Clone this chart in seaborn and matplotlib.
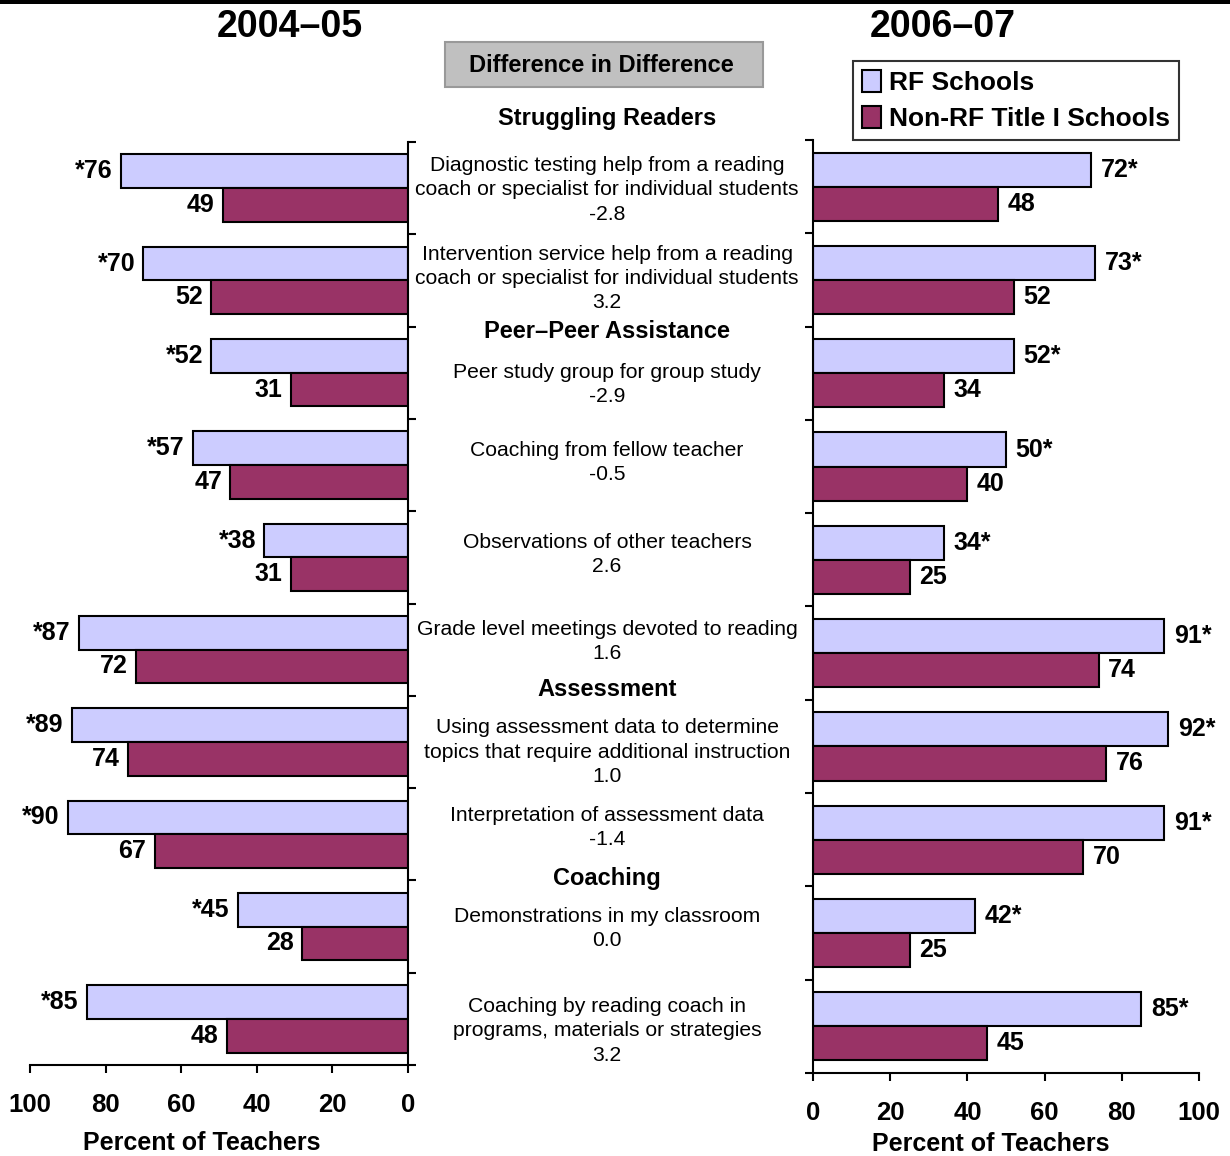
import numpy as np
import pandas as pd
import seaborn as sns
import matplotlib.pyplot as plt
import matplotlib.transforms as mtransforms
from matplotlib.patches import Patch, Rectangle

items = [
    "Diagnostic testing help from a reading\ncoach or specialist for individual students",
    "Intervention service help from a reading\ncoach or specialist for individual students",
    "Peer study group for group study",
    "Coaching from fellow teacher",
    "Observations of other teachers",
    "Grade level meetings devoted to reading",
    "Using assessment data to determine\ntopics that require additional instruction",
    "Interpretation of assessment data",
    "Demonstrations in my classroom",
    "Coaching by reading coach in\nprograms, materials or strategies",
]
diff_in_diff = ["-2.8", "3.2", "-2.9", "-0.5", "2.6", "1.6", "1.0", "-1.4", "0.0", "3.2"]
rf_0405 = [76, 70, 52, 57, 38, 87, 89, 90, 45, 85]
nonrf_0405 = [49, 52, 31, 47, 31, 72, 74, 67, 28, 48]
rf_0607 = [72, 73, 52, 50, 34, 91, 92, 91, 42, 85]
nonrf_0607 = [48, 52, 34, 40, 25, 74, 76, 70, 25, 45]
groups = ["RF Schools", "Non-RF Title I Schools"]
sections = ["Struggling Readers", "Peer\u2013Peer Assistance", "Assessment", "Coaching"]
xticks = [0, 20, 40, 60, 80, 100]

colors = ["#CCCCFF", "#993366"]
W, H = 1230, 1156

sns.set_style("white")
plt.rcParams["font.family"] = ["Liberation Sans", "DejaVu Sans"]
plt.rcParams["text.color"] = "black"
plt.rcParams["axes.labelcolor"] = "black"
plt.rcParams["xtick.color"] = "black"
plt.rcParams["ytick.color"] = "black"


def long_df(rf, nonrf):
    return pd.DataFrame({
        "item": items * 2,
        "pct": rf + nonrf,
        "school": [groups[0]] * len(items) + [groups[1]] * len(items),
    })


fig = plt.figure(figsize=(W / 100, H / 100), dpi=100)
ax_l = fig.add_axes([30 / W, 1 - 1065 / H, 378 / W, 923 / H])
ax_r = fig.add_axes([813 / W, 1 - 1073 / H, 386 / W, 933 / H])

for ax, rf, nonrf, side in [(ax_l, rf_0405, nonrf_0405, "left"),
                            (ax_r, rf_0607, nonrf_0607, "right")]:
    sns.barplot(data=long_df(rf, nonrf), y="item", x="pct", hue="school",
                orient="h", palette=colors, saturation=1, edgecolor="black",
                linewidth=1.5, width=0.73, legend=False, ax=ax)
    ax.set_ylim(len(items) - 0.5, -0.5)
    ax.set_yticks(np.arange(-0.5, len(items) + 0.5, 1))
    ax.set_yticklabels([])
    ax.set_ylabel("")
    ax.set_xticks(xticks)
    ax.set_xticklabels([str(t) for t in xticks], fontweight="bold", fontsize=18.5)
    ax.set_xlabel("Percent of Teachers", fontsize=18, fontweight="bold")
    ax.tick_params(axis="both", direction="out", length=6, width=1.5, color="black")
    ax.tick_params(axis="x", bottom=True, pad=14)
    for s in ax.spines.values():
        s.set_linewidth(1.5)
        s.set_color("black")
    ax.spines["top"].set_visible(False)
    if side == "left":
        ax.set_xlim(100, 0)
        ax.spines["left"].set_visible(False)
        ax.yaxis.tick_right()
        ax.tick_params(axis="y", right=True, left=False)
        ax.xaxis.set_label_coords(0.455, -0.072)
        ax.bar_label(ax.containers[0], labels=[f"*{v}" for v in rf],
                     padding=6, fontsize=18, fontweight="bold")
        ax.bar_label(ax.containers[1], labels=[str(v) for v in nonrf],
                     padding=6, fontsize=18, fontweight="bold")
    else:
        ax.set_xlim(0, 100)
        ax.spines["right"].set_visible(False)
        ax.tick_params(axis="y", left=True, right=False)
        ax.xaxis.set_label_coords(0.46, -0.063)
        ax.bar_label(ax.containers[0], labels=[f"{v}*" for v in rf],
                     padding=7, fontsize=18, fontweight="bold")
        ax.bar_label(ax.containers[1], labels=[str(v) for v in nonrf],
                     padding=7, fontsize=18, fontweight="bold")

# middle labels with difference-in-difference values
mid = mtransforms.blended_transform_factory(fig.transFigure, ax_l.transData)
label_shift = [0.02, -0.02, 0.13, -0.03, -0.03, -0.09, 0.11, -0.07, 0.02, 0.13]
for i, (txt, d) in enumerate(zip(items, diff_in_diff)):
    ax_l.text(607 / W, i + label_shift[i], txt + "\n" + d, transform=mid,
              ha="center", va="center", fontsize=15.2, linespacing=1.35,
              clip_on=False)

section_y = [118, 331, 690, 878]
for s, py in zip(sections, section_y):
    fig.text(607 / W, 1 - py / H, s, ha="center", va="center",
             fontsize=17, fontweight="bold")

# titles
fig.text(290 / W, 1 - 27 / H, "2004\u201305", ha="center", va="center",
         fontsize=27, fontweight="bold")
fig.text(943 / W, 1 - 27 / H, "2006\u201307", ha="center", va="center",
         fontsize=27, fontweight="bold")

# gray box
fig.add_artist(Rectangle((445 / W, 1 - 87 / H), 318 / W, 45 / H,
                         transform=fig.transFigure, facecolor="#C0C0C0",
                         edgecolor="#999999", linewidth=1.5))
fig.text(601 / W, 1 - 66 / H, "Difference in Difference", ha="center",
         va="center", fontsize=17, fontweight="bold")

# top rule
fig.add_artist(Rectangle((0, 1 - 4 / H), 1, 4 / H, transform=fig.transFigure,
                         facecolor="black", edgecolor="none"))

handles = [Patch(facecolor=c, edgecolor="black", linewidth=1.5) for c in colors]
leg = fig.legend(handles, groups, loc="upper left",
                 bbox_to_anchor=(853 / W, 1 - 61 / H), fontsize=19,
                 frameon=True, fancybox=False, handlelength=0.7,
                 handleheight=0.9, handletextpad=0.3, borderpad=0.35,
                 borderaxespad=0, labelspacing=0.4)
leg.get_frame().set_edgecolor("black")
leg.get_frame().set_linewidth(1.5)
for t in leg.get_texts():
    t.set_fontweight("bold")

fig.savefig("out.png", dpi=100)
